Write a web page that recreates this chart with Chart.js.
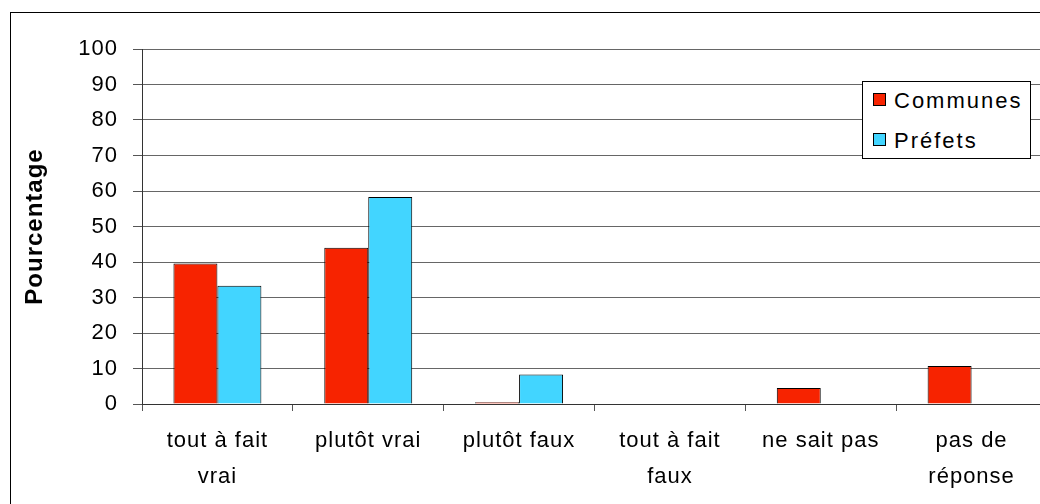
<!DOCTYPE html>
<html>
<head>
<meta charset="utf-8">
<script src="https://cdn.jsdelivr.net/npm/chart.js@4/dist/chart.umd.min.js"></script>
<style>
  body { margin: 0; overflow: hidden; background: #fff; font-family: "Liberation Sans", Arial, sans-serif; }
  .cadre { position: absolute; left: 10px; top: 12px; width: 1200px; height: 700px; border: 1px solid #000; }
  .zone { position: absolute; left: 0; top: 0; width: 1060px; height: 504px; }
  .legende { position: absolute; left: 862px; top: 81px; width: 167px; height: 76px; border: 1px solid #000; background: #fff; }
  .legende div { position: absolute; left: 10px; font-size: 22px; line-height: 22px; letter-spacing: 2px; color: #000; white-space: nowrap; }
  .legende span { display: inline-block; width: 11px; height: 11px; border: 1px solid #000; margin-right: 8px; vertical-align: 2px; }
</style>
</head>
<body>
<div class="cadre"></div>
<div class="zone"><canvas id="graphique"></canvas></div>
<div class="legende" id="legende"></div>

<script>
// =======================
// DONNEES
// =======================
const categories = [
  ["tout à fait", "vrai"],
  "plutôt vrai",
  "plutôt faux",
  ["tout à fait", "faux"],
  "ne sait pas",
  ["pas de", "réponse"]
];
const communes = [39.6, 44.0, 0.5, 0, 4.5, 10.7];
const prefets = [33.3, 58.3, 8.3, 0, 0, 0];
const nomsSeries = ["Communes", "Préfets"];
const couleurs = ["#f72300", "#42d5ff"];

const yMin = 0;
const yMax = 100;
const yPas = 10;

// espacement des lettres (texte un peu large comme dans l'original)
const espacement = {
  id: "espacement",
  beforeLayout(chart) { chart.ctx.letterSpacing = "1px"; },
  beforeDraw(chart) { chart.ctx.letterSpacing = "1px"; }
};

// =======================
// GRAPHIQUE
// =======================
const chart = new Chart(document.getElementById("graphique"), {
  type: "bar",
  data: {
    labels: categories,
    datasets: [
      { label: nomsSeries[0], data: communes, backgroundColor: couleurs[0], borderColor: "#000", borderWidth: 1 },
      { label: nomsSeries[1], data: prefets, backgroundColor: couleurs[1], borderColor: "#000", borderWidth: 1 }
    ]
  },
  plugins: [espacement],
  options: {
    responsive: true,
    maintainAspectRatio: false,
    animation: false,
    layout: { padding: { left: 23, top: 49, right: 13, bottom: 0 } },
    datasets: { bar: { categoryPercentage: 0.583, barPercentage: 1 } },
    plugins: {
      legend: { display: false },
      tooltip: { enabled: false }
    },
    scales: {
      x: {
        grid: { display: true, drawOnChartArea: false, offset: true, tickLength: 7, color: "#555", tickColor: "#555" },
        border: { color: "#333", width: 1 },
        ticks: {
          color: "#000",
          padding: 12,
          maxRotation: 0,
          autoSkip: false,
          font: { family: "Liberation Sans", size: 22, lineHeight: 1.62 }
        },
        afterFit: (s) => { s.height = 100; }
      },
      y: {
        min: yMin,
        max: yMax,
        grid: { color: "#666", tickColor: "#555", tickLength: 9 },
        border: { color: "#333", width: 1 },
        ticks: {
          stepSize: yPas,
          color: "#000",
          padding: 15,
          font: { family: "Liberation Sans", size: 22 }
        },
        title: {
          display: true,
          text: "Pourcentage",
          color: "#000",
          padding: 0,
          font: { family: "Liberation Sans", size: 24, weight: "bold", lineHeight: 1 }
        },
        afterFit: (s) => { s.width = 119; }
      }
    }
  }
});

// =======================
// LEGENDE
// =======================
const legende = document.getElementById("legende");
nomsSeries.forEach((nom, i) => {
  const item = document.createElement("div");
  item.style.top = (8 + i * 40) + "px";
  item.innerHTML = `<span style="background:${couleurs[i]}"></span>${nom}`;
  legende.appendChild(item);
});
</script>
</body>
</html>
